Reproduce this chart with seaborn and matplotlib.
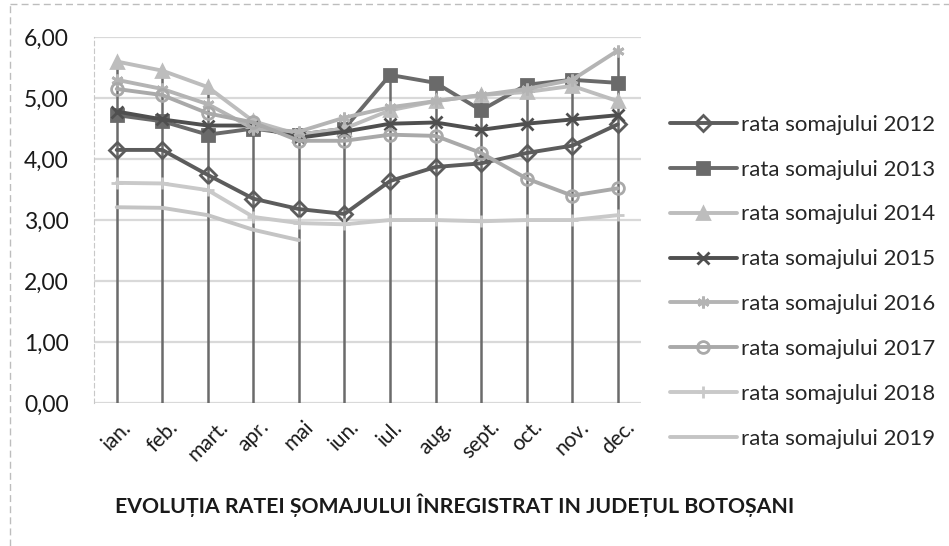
import numpy as np
import pandas as pd
import seaborn as sns
import matplotlib.pyplot as plt
from matplotlib.lines import Line2D

# data
luni = ["ian.", "feb.", "mart.", "apr.", "mai", "iun.", "iul.", "aug.", "sept.", "oct.", "nov.", "dec."]
rata_2012 = [4.15, 4.15, 3.74, 3.35, 3.18, 3.10, 3.64, 3.87, 3.93, 4.10, 4.22, 4.57]
rata_2013 = [4.72, 4.62, 4.40, 4.50, 4.40, 4.50, 5.38, 5.25, 4.80, 5.22, 5.30, 5.25]
rata_2014 = [5.60, 5.45, 5.18, 4.62, 4.40, 4.50, 4.80, 4.95, 5.05, 5.10, 5.20, 4.95]
rata_2015 = [4.78, 4.65, 4.55, 4.55, 4.35, 4.45, 4.58, 4.60, 4.48, 4.58, 4.65, 4.72]
rata_2016 = [5.30, 5.15, 4.90, 4.50, 4.45, 4.68, 4.85, 4.95, 5.05, 5.15, 5.30, 5.78]
rata_2017 = [5.15, 5.05, 4.75, 4.60, 4.30, 4.30, 4.40, 4.38, 4.10, 3.68, 3.40, 3.52]
rata_2018 = [3.61, 3.60, 3.49, 3.05, 2.95, 2.93, 3.00, 3.00, 2.98, 3.00, 3.00, 3.08]
rata_2019 = [3.21, 3.20, 3.08, 2.84, 2.67, np.nan, np.nan, np.nan, np.nan, np.nan, np.nan, np.nan]

serii = {
    "rata somajului 2012": rata_2012,
    "rata somajului 2013": rata_2013,
    "rata somajului 2014": rata_2014,
    "rata somajului 2015": rata_2015,
    "rata somajului 2016": rata_2016,
    "rata somajului 2017": rata_2017,
    "rata somajului 2018": rata_2018,
    "rata somajului 2019": rata_2019,
}
culori = ["#5c5c5c", "#6a6a6a", "#bdbdbd", "#4f4f4f", "#b4b4b4", "#a9a9a9", "#c9c9c9", "#c4c4c4"]
markere = ["D", "s", "^", "x", (6, 2, 0), "o", "+", ""]

rows = []
for nume, vals in serii.items():
    for i, v in enumerate(vals):
        rows.append({"luna": i, "rata": v, "serie": nume})
df = pd.DataFrame(rows)

sns.set_style("white")
plt.rcParams["font.family"] = ["Lato", "DejaVu Sans"]

fig = plt.figure(figsize=(9.49, 5.46), dpi=100)
ax = fig.add_axes([0.099, 0.262, 0.576, 0.670])

# drop lines from the highest point of each month
df_max = df.groupby("luna")["rata"].max()
ax.vlines(df_max.index, 0, df_max.values, color="#6b6b6b", lw=1.8, zorder=1)

for (nume, vals), c, m in zip(serii.items(), culori, markere):
    sub = df[df["serie"] == nume]
    sns.lineplot(data=sub, x="luna", y="rata", ax=ax, color=c, lw=2.8,
                 marker=m if m != "" else None, markersize=8.5,
                 markerfacecolor="none" if m in ["D", "o"] else c,
                 markeredgecolor=c, markeredgewidth=2, label=nume, zorder=3)

ax.set_xlim(-0.5, 11.5)
ax.set_ylim(0, 6)
ax.set_yticks(np.arange(0, 6.01, 1))
ax.set_yticklabels([f"{v:.2f}".replace(".", ",") for v in np.arange(0, 6.01, 1)], fontsize=16.5, color="#1a1a1a")
ax.set_xticks(range(12))
ax.set_xticklabels(luni, rotation=45, fontsize=15, color="#1a1a1a", ha="center")
ax.tick_params(axis="y", length=0, pad=18)
ax.tick_params(axis="x", length=0, pad=10)
ax.yaxis.grid(True, color="#d9d9d9", lw=1.6)
ax.set_axisbelow(True)
ax.set_xlabel("")
ax.set_ylabel("")
for s in ["top", "right", "bottom"]:
    ax.spines[s].set_visible(False)
ax.spines["left"].set_color("#c8c8c8")
ax.spines["left"].set_linestyle((0, (4, 3)))

handles, labels = ax.get_legend_handles_labels()
ax.get_legend().remove()
fig.legend(handles, labels, loc="upper left", bbox_to_anchor=(0.706, 0.79),
           frameon=False, fontsize=16, handlelength=3.0, handletextpad=0.2,
           labelspacing=1.12, borderpad=0, borderaxespad=0)

fig.text(0.479, 0.075, "EVOLUȚIA RATEI ȘOMAJULUI ÎNREGISTRAT IN JUDEȚUL BOTOȘANI",
         ha="center", va="center", fontsize=15.3, fontweight="bold", color="#1a1a1a")

# chart area border (only top and left visible on the scan)
fig.add_artist(Line2D([0.011, 0.011], [0.0, 0.993], color="#bdbdbd", lw=1, ls=(0, (5, 3))))
fig.add_artist(Line2D([0.011, 1.0], [0.993, 0.993], color="#bdbdbd", lw=1, ls=(0, (5, 3))))

fig.savefig("out.png", dpi=100)
